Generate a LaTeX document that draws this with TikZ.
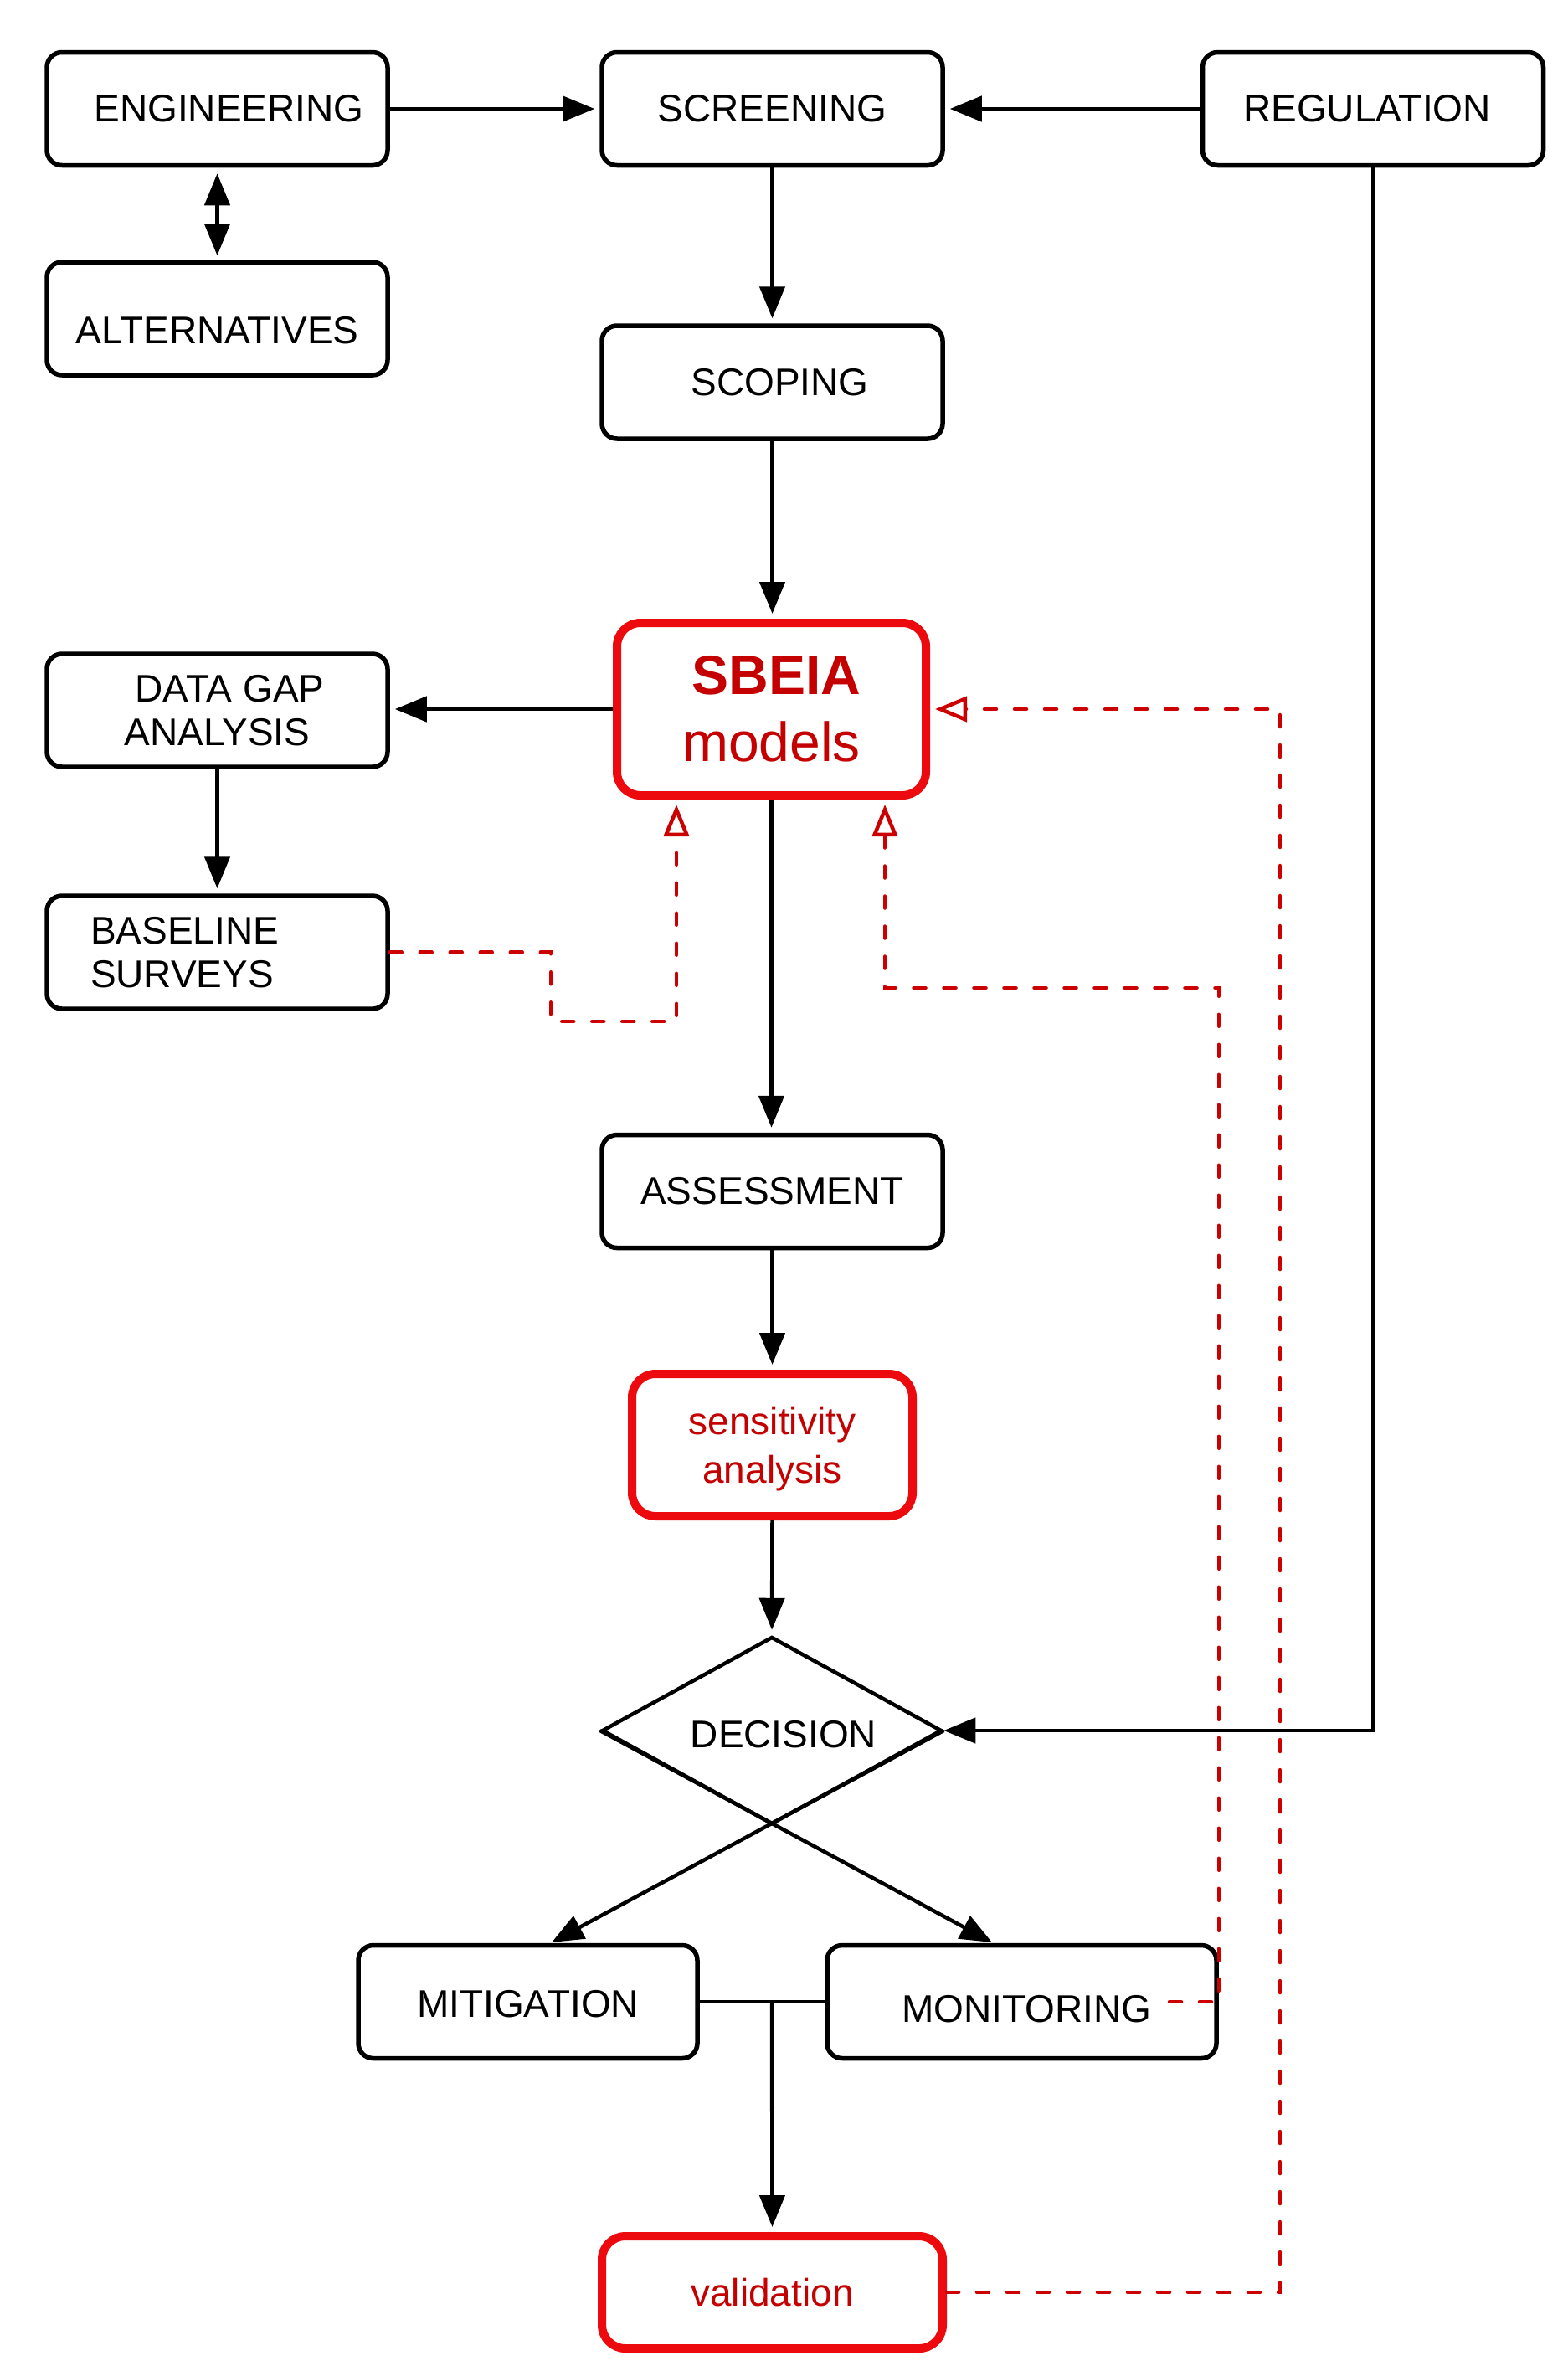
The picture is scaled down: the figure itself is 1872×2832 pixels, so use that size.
\documentclass[tikz,border=0pt]{standalone}
\usepackage{fontspec}
\setmainfont{Liberation Sans}
\usetikzlibrary{arrows.meta,shapes.geometric,calc}
\definecolor{boxred}{RGB}{236,10,14}
\definecolor{txtred}{RGB}{196,0,0}
\definecolor{dashred}{RGB}{204,0,0}
\newcommand{\lowertext}[2]{\raisebox{-#1}[\height][\depth]{#2}}
\begin{document}
\begin{tikzpicture}[x=1pt,y=-1pt,
 box/.style={draw=black, line width=5.5pt, rounded corners=18pt, minimum width=407pt, minimum height=135pt, inner sep=0pt, font=\fontsize{46}{52}\selectfont, align=center},
 redbox/.style={draw=boxred, line width=10pt, rounded corners=28pt, inner sep=0pt, text=txtred, align=center},
 conn/.style={line width=4.5pt, -{Triangle[length=38pt,width=30pt]}, shorten >=6pt},
 fb/.style={draw=dashred, line width=4.5pt, dash pattern=on 14pt off 22pt, line cap=round, -{Triangle[open, length=38pt, width=30pt, fill=white, line width=4.5pt]}, shorten >=6pt},
]
\useasboundingbox[fill=white] (0,0) rectangle (1872,2832);

% nodes
\node[box] (eng) at (259.5,130) {\hspace*{28pt}ENGINEERING};
\node[box] (scr) at (922.5,130) {SCREENING};
\node[box] (reg) at (1640,130) {REGULATION\hspace*{14pt}};
\node[box] (alt) at (259.5,380.5) {\lowertext{14pt}{ALTERNATIVES}};
\node[box] (scop) at (922.5,456.5) {\hspace*{18pt}SCOPING};
\node[redbox, minimum width=369pt, minimum height=206pt, font=\fontsize{66}{80}\selectfont] (sbeia) at (921.5,847) {\hspace*{12pt}\textbf{SBEIA}\\models};
\node[box] (gap) at (259.5,848.5) {\hspace*{30pt}DATA GAP\\ANALYSIS};
\node[box, align=left, text width=303pt] (base) at (259.5,1137.5) {BASELINE\\SURVEYS};
\node[box] (ass) at (922.5,1423) {ASSESSMENT};
\node[redbox, minimum width=335pt, minimum height=170pt, font=\fontsize{46}{58}\selectfont] (sens) at (922.5,1726) {\lowertext{5pt}{sensitivity}\\\lowertext{5pt}{analysis}};
\node[draw, diamond, shape aspect=1.81, line width=4.5pt, minimum width=406pt, minimum height=224pt, inner sep=0pt, font=\fontsize{46}{52}\selectfont] (dec) at (922,2067) {\hspace*{28pt}\lowertext{5pt}{DECISION}};
\node[box, minimum width=405pt] (mit) at (630.5,2391) {\lowertext{3pt}{MITIGATION}};
\node[box, minimum width=465pt] (mon) at (1220.5,2391) {\hspace*{12pt}\lowertext{9pt}{MONITORING}};
\node[redbox, minimum width=407pt, minimum height=134pt, font=\fontsize{46}{52}\selectfont] (val) at (922.5,2738) {validation};

% coordinates
\coordinate (mitin) at (659,2320);
\coordinate (monin) at (1185,2320);
\coordinate (j) at (922,2391);
\coordinate (b1) at (658,1220);
\coordinate (b2) at (808,1220);
\coordinate (m0) at (1397,2391);
\coordinate (m1) at (1057,1180);
\coordinate (r1) at (1529,847);

% black connectors
\draw[conn] (eng) -- (scr);
\draw[conn] (reg) -- (scr);
\draw[line width=4.5pt, {Triangle[length=38pt,width=30pt]}-{Triangle[length=38pt,width=30pt]}, shorten <=7pt, shorten >=5pt] (eng) -- (alt);
\draw[conn] (scr) -- (scop);
\draw[conn] (scop.south) -- (scop.south |- sbeia.north);
\draw[conn] (sbeia.west) -- (sbeia.west -| gap.east);
\draw[conn] (gap) -- (base);
\draw[conn] (sbeia.south) -- (sbeia.south |- ass.north);
\draw[conn] (ass) -- (sens);
\draw[conn] (sens.south) -- (dec.north);
\draw[conn, shorten >=0pt] (reg.south) |- (dec.east);
\draw[conn, shorten >=0pt] (dec.east) -- (mitin);
\draw[conn, shorten >=0pt] (dec.west) -- (monin);
\draw[line width=4.5pt] (mit) -- (mon);
\draw[conn] (j) -- (val.north);

% red feedback
\draw[fb] (base.east) -| (b1) -- (b2) -- (b2 |- sbeia.south);
\draw[fb] (m0) -- (mon.east) |- (m1) -- (m1 |- sbeia.south);
\draw[fb] (val.east) -| (r1) -- (r1 -| sbeia.east);
\end{tikzpicture}
\end{document}
